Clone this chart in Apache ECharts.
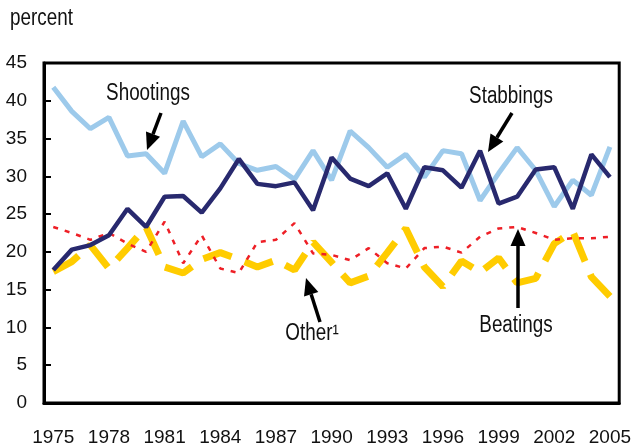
<!DOCTYPE html>
<html>
<head>
<meta charset="utf-8">
<script src="https://cdn.jsdelivr.net/npm/echarts@6/dist/echarts.min.js"></script>
<style>
  html, body { margin: 0; padding: 0; background: #fff; }
  #chart { width: 634px; height: 447px; }
</style>
</head>
<body>
<div id="chart"></div>
<script>
/* 读图估值,单位 % */
const years = ['1975', '1976', '1977', '1978', '1979', '1980', '1981', '1982', '1983', '1984',
  '1985', '1986', '1987', '1988', '1989', '1990', '1991', '1992', '1993', '1994',
  '1995', '1996', '1997', '1998', '1999', '2000', '2001', '2002', '2003', '2004', '2005']
const shootings = [41.8, 38.6, 36.3, 37.8, 32.7, 33.0, 30.4, 37.3, 32.6, 34.3,
  31.7, 30.8, 31.3, 29.6, 33.4, 29.5, 36.0, 33.8, 31.2, 32.9,
  29.9, 33.4, 33.0, 26.8, 30.4, 33.8, 30.8, 26.0, 29.5, 27.5, 33.9]
const stabbings = [17.6, 20.3, 20.9, 22.2, 25.7, 23.3, 27.3, 27.4, 25.2, 28.4,
  32.3, 29.0, 28.7, 29.2, 25.5, 32.5, 29.7, 28.7, 30.4, 25.7,
  31.2, 30.8, 28.5, 33.4, 26.4, 27.3, 30.9, 31.2, 25.7, 32.9, 29.9]
const beatings = [23.3, 22.5, 21.6, 22.5, 21.1, 20.0, 24.0, 18.5, 22.2, 17.8,
  17.2, 21.3, 21.6, 23.8, 19.8, 19.6, 18.9, 20.5, 18.5, 17.8,
  20.5, 20.7, 19.9, 22.0, 23.1, 23.3, 22.5, 21.6, 21.8, 21.8, 22.0]
const other = [17.4, 18.7, 20.9, 17.8, 20.5, 23.3, 18.0, 17.2, 19.0, 19.9,
  19.0, 18.0, 18.9, 17.6, 21.3, 18.6, 15.9, 16.8, 19.9, 23.1,
  18.0, 15.4, 18.8, 17.3, 19.2, 15.9, 16.5, 21.1, 22.7, 16.7, 14.1]

/* 没有窄体字,注释文字用横向压缩模拟 */
const FONT = "'Liberation Sans', Arial, sans-serif"
const C = { shoot: '#9DCAEB', stab: '#28296E', beat: '#EE1F26', other: '#FFCC00', ink: '#111' }

/* 箭头:尾 -> 尖,线 + 三角头 */
function arrow(x1, y1, x2, y2) {
  const dx = x2 - x1, dy = y2 - y1, len = Math.hypot(dx, dy)
  const ux = dx / len, uy = dy / len, head = 17, half = 7.5
  const bx = x2 - ux * head, by = y2 - uy * head
  return [
    { type: 'line', shape: { x1, y1, x2: bx, y2: by },
      style: { stroke: '#000', lineWidth: 3.5 }, z: 100 },
    { type: 'polygon', shape: { points: [[x2, y2],
        [bx - uy * half, by + ux * half], [bx + uy * half, by - ux * half]] },
      style: { fill: '#000' }, z: 100 },
  ]
}
const label = (x, y, text, align = 'center') => ({ type: 'text', x, y, z: 100,
  scaleX: 0.82,
  style: { text, font: `23px ${FONT}`, fill: C.ink, align, verticalAlign: 'middle' } })

const chart = echarts.init(document.getElementById('chart'))
chart.setOption({
  animation: false,
  grid: { left: 44, right: 10.5, top: 63, bottom: 43.5,
    show: true, borderColor: '#000', borderWidth: 3 },
  xAxis: {
    type: 'category', data: years,
    axisLine: { lineStyle: { color: '#000', width: 3 } },
    axisTick: { inside: true, length: 6, interval: 0, lineStyle: { color: '#000', width: 2 } },
    axisLabel: { interval: 2, color: C.ink, fontSize: 19, fontFamily: FONT, margin: 25 },
    splitLine: { show: false },
  },
  yAxis: {
    type: 'value', min: 0, max: 45, interval: 5,
    axisLine: { show: true, lineStyle: { color: '#000', width: 3 } },
    axisTick: { show: true, inside: true, length: 7, lineStyle: { color: '#000', width: 2 } },
    axisLabel: { color: C.ink, fontSize: 19, fontFamily: FONT, margin: 17 },
    splitLine: { show: false },
  },
  series: [
    { name: 'Other', type: 'line', data: other, symbol: 'none',
      lineStyle: { color: C.other, width: 7, type: [30, 14], cap: 'butt' } },
    { name: 'Beatings', type: 'line', data: beatings, symbol: 'none',
      lineStyle: { color: C.beat, width: 2.5, type: [5, 7] } },
    { name: 'Shootings', type: 'line', data: shootings, symbol: 'none',
      lineStyle: { color: C.shoot, width: 5 } },
    { name: 'Stabbings', type: 'line', data: stabbings, symbol: 'none',
      lineStyle: { color: C.stab, width: 4.5 } },
  ],
  graphic: [
    label(10, 19, 'percent', 'left'),
    label(148, 94, 'Shootings'), ...arrow(161, 113, 147, 150),
    label(511, 97, 'Stabbings'), ...arrow(512, 113, 488, 152),
    label(312, 334, 'Other¹'), ...arrow(320, 322, 306, 278),
    label(516, 326, 'Beatings'), ...arrow(518, 308, 518, 229),
  ],
})
</script>
</body>
</html>
